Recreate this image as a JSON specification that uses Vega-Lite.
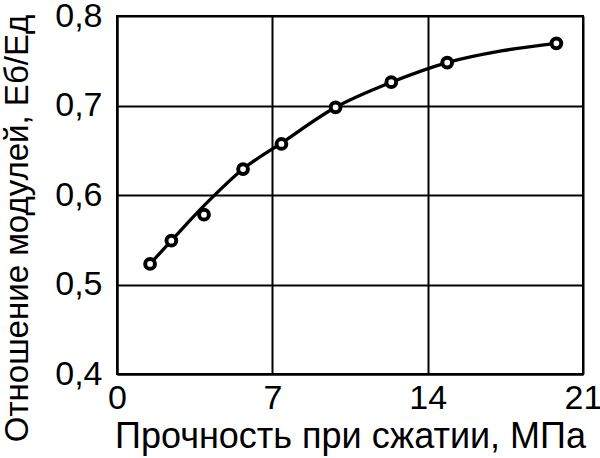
{
  "$schema": "https://vega.github.io/schema/vega-lite/v6.json",
  "width": 466,
  "height": 358,
  "autosize": {"type": "none"},
  "padding": {"left": 117, "top": 16, "right": 17, "bottom": 84},
  "background": "white",
  "datasets": {
    "curve": [
      {"x": 1.49, "y": 0.523},
      {"x": 2.45, "y": 0.549},
      {"x": 4.0, "y": 0.59},
      {"x": 5.68, "y": 0.629},
      {"x": 7.41, "y": 0.658},
      {"x": 9.85, "y": 0.698},
      {"x": 12.36, "y": 0.726},
      {"x": 14.88, "y": 0.748},
      {"x": 17.32, "y": 0.761},
      {"x": 19.8, "y": 0.7695}
    ],
    "points": [
      {"x": 1.49, "y": 0.523},
      {"x": 2.45, "y": 0.549},
      {"x": 3.92, "y": 0.578},
      {"x": 5.68, "y": 0.629},
      {"x": 7.41, "y": 0.657},
      {"x": 9.85, "y": 0.698},
      {"x": 12.36, "y": 0.726},
      {"x": 14.88, "y": 0.748},
      {"x": 19.8, "y": 0.7695}
    ]
  },
  "layer": [
    {
      "data": {"name": "curve"},
      "mark": {"type": "line", "interpolate": "monotone", "color": "black", "strokeWidth": 3.3},
      "encoding": {
        "x": {
          "field": "x", "type": "quantitative",
          "scale": {"domain": [0, 21], "nice": false},
          "axis": {
            "values": [0, 7, 14, 21],
            "title": "Прочность при сжатии, МПа",
            "grid": true, "gridColor": "black", "gridWidth": 2, "gridOpacity": 1,
            "domain": true, "domainColor": "black", "domainWidth": 2,
            "ticks": false, "labelPadding": 7,
            "labelFont": "Liberation Sans", "labelFontSize": 34, "labelColor": "black",
            "labelFlush": false, "labelOverlap": false,
            "titleFont": "Liberation Sans", "titleFontSize": 36, "titleFontWeight": "normal", "titleColor": "black",
            "titlePadding": 4
          }
        },
        "y": {
          "field": "y", "type": "quantitative",
          "scale": {"domain": [0.4, 0.8], "nice": false, "zero": false},
          "axis": {
            "values": [0.4, 0.5, 0.6, 0.7, 0.8],
            "labelExpr": "replace(format(datum.value, '.1f'), '.', ',')",
            "title": "Отношение модулей, Eб/Eд",
            "grid": true, "gridColor": "black", "gridWidth": 2, "gridOpacity": 1,
            "domain": true, "domainColor": "black", "domainWidth": 2,
            "ticks": false, "labelPadding": 15,
            "labelFont": "Liberation Sans", "labelFontSize": 34, "labelColor": "black",
            "labelFlush": false, "labelOverlap": false,
            "titleFont": "Liberation Sans", "titleFontSize": 33, "titleFontWeight": "normal", "titleColor": "black",
            "titleAngle": -90, "titleX": -116, "titleY": 212, "titleBaseline": "top", "titleAlign": "center"
          }
        }
      }
    },
    {
      "data": {"name": "points"},
      "mark": {"type": "point", "shape": "circle", "filled": false, "fill": "white", "fillOpacity": 1, "stroke": "black", "strokeWidth": 4, "size": 95, "opacity": 1},
      "encoding": {
        "x": {"field": "x", "type": "quantitative"},
        "y": {"field": "y", "type": "quantitative"}
      }
    }
  ],
  "config": {
    "view": {"stroke": "black", "strokeWidth": 2}
  }
}
